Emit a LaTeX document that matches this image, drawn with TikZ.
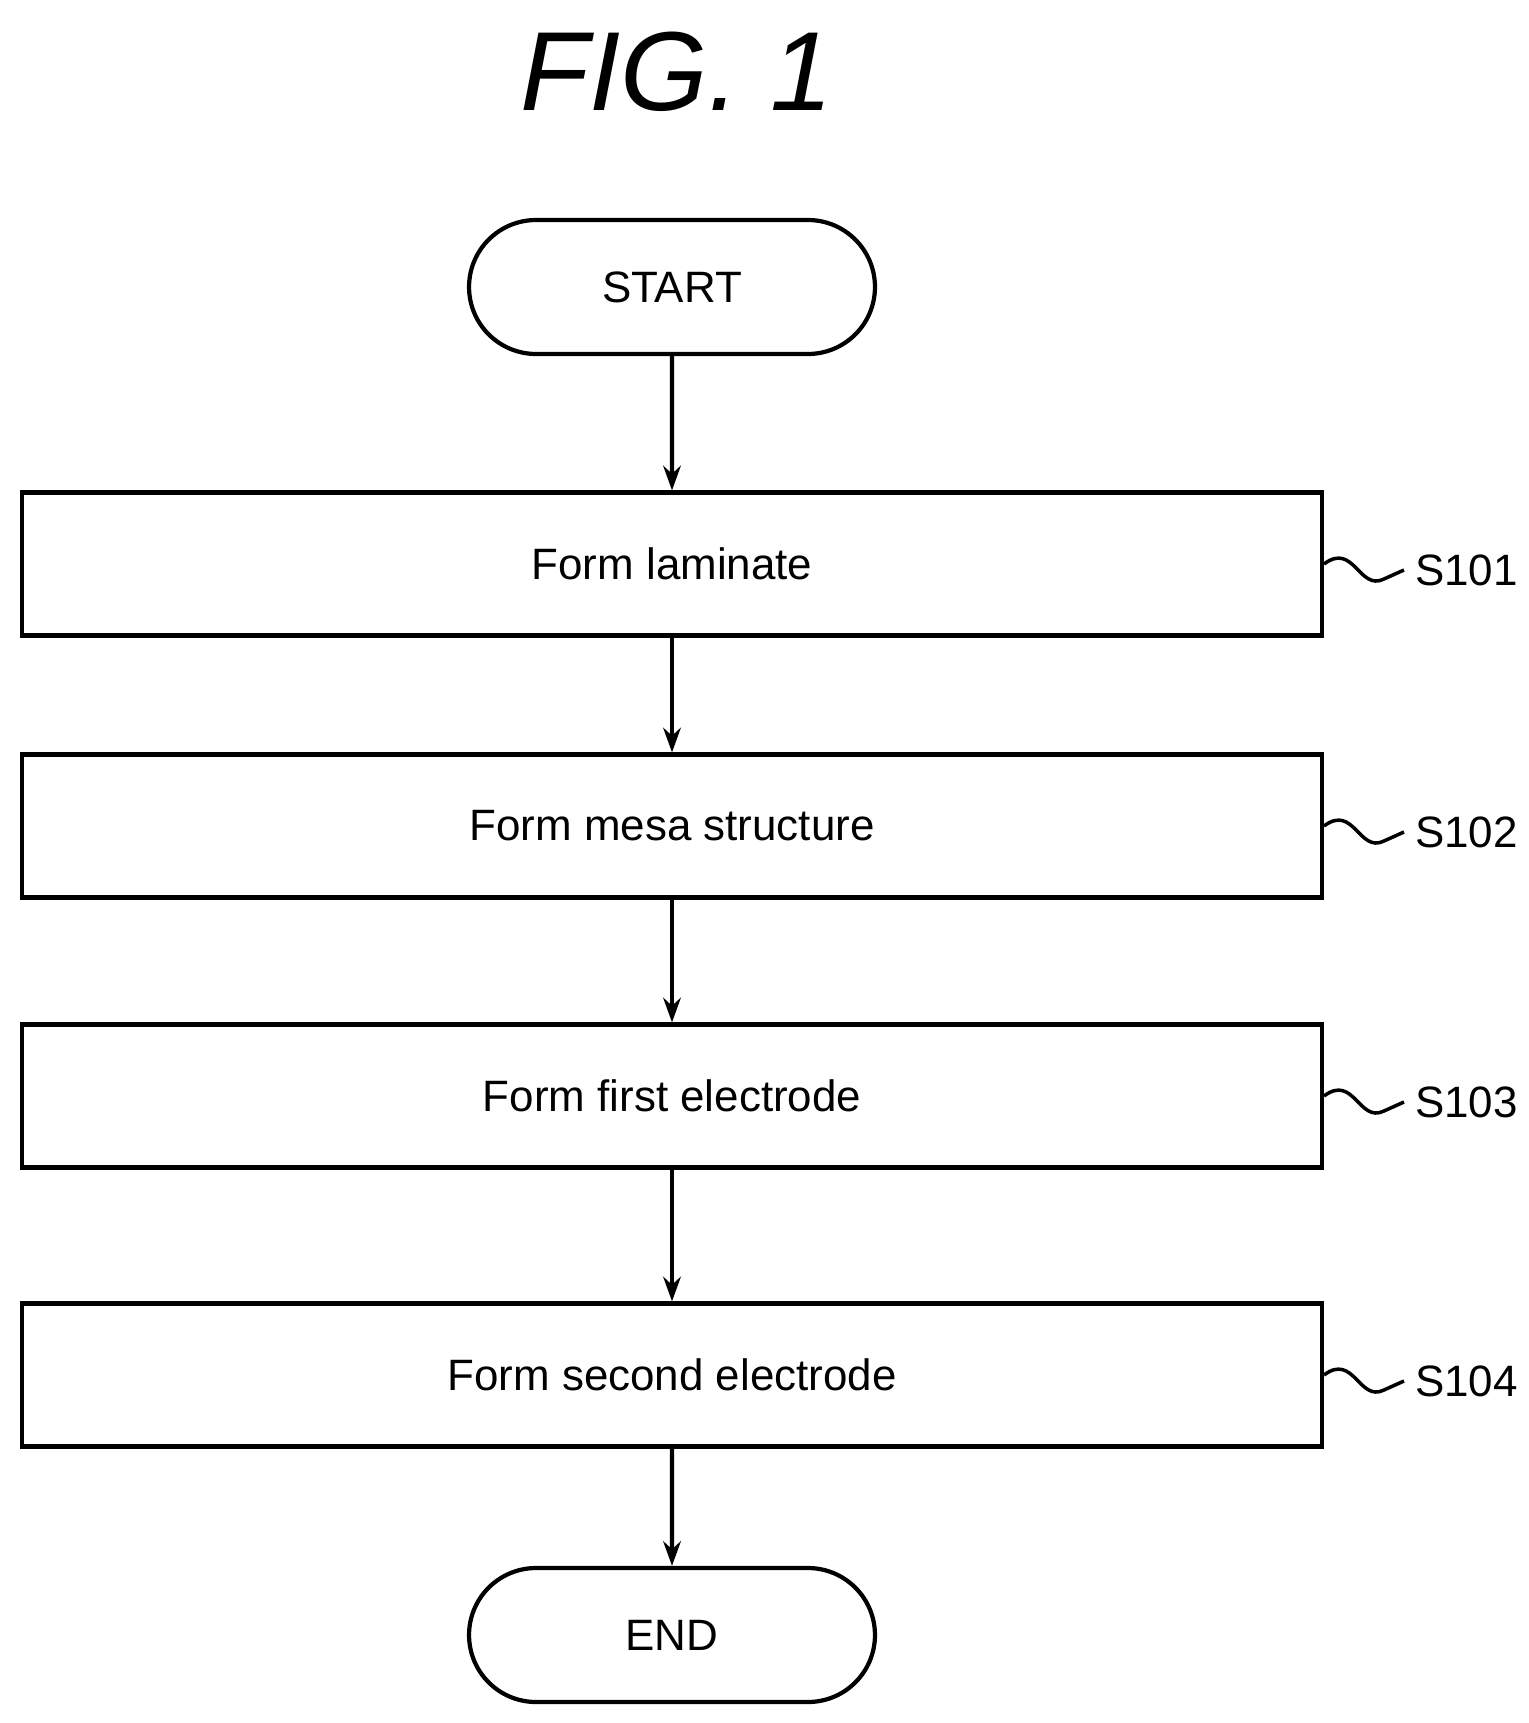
\documentclass[tikz,border=0pt]{standalone}
\usepackage{fontspec}
\setmainfont{Liberation Sans}
\usetikzlibrary{arrows.meta,shapes.misc}
\tikzset{
  procbox/.style={draw, line width=2.4pt, minimum width=26cm, minimum height=2.86cm, inner sep=0pt, font=\fontsize{25}{30}\selectfont},
  term/.style={draw, line width=2.4pt, rounded rectangle, minimum width=8.12cm, minimum height=2.68cm, inner sep=0pt, font=\fontsize{25}{30}\selectfont},
  flow/.style={line width=2.4pt, -{Stealth[length=14pt,width=10pt]}},
  tag/.style={font=\fontsize{25}{30}\selectfont, anchor=west}
}
\begin{document}
\begin{tikzpicture}[x=0.02cm,y=-0.02cm]
  \useasboundingbox (0,0) rectangle (1528,1723);
  % title
  \node[font=\fontsize{64}{70}\selectfont\itshape] (title) at (677,72) {FIG. 1};
  % terminals and steps
  \node[term] (start) at (672,287) {START};
  \node[procbox] (s1) at (672,564) {Form laminate};
  \node[procbox] (s2) at (672,826) {Form mesa structure};
  \node[procbox] (s3) at (672,1096) {Form first electrode};
  \node[procbox] (s4) at (672,1375) {Form second electrode};
  \node[term] (end) at (672,1635) {END};
  % connectors
  \draw[flow] (start) -- (s1);
  \draw[flow] (s1) -- (s2);
  \draw[flow] (s2) -- (s3);
  \draw[flow] (s3) -- (s4);
  \draw[flow] (s4) -- (end);
  % step tags
  \foreach \s/\t in {s1/S101, s2/S102, s3/S103, s4/S104} {
    \coordinate (w\s) at ([xshift=1.6cm,yshift=-0.12cm]\s.east);
    \draw[line width=2pt] (\s.east) .. controls ([xshift=0.6cm,yshift=0.45cm]\s.east) and ([xshift=0.7cm,yshift=-0.55cm]\s.east) .. ([xshift=1.2cm,yshift=-0.3cm]\s.east) -- (w\s);
    \node[tag] (t\s) at ([xshift=0.1cm,yshift=0.0cm]w\s) {\t};
  }
\end{tikzpicture}
\end{document}
